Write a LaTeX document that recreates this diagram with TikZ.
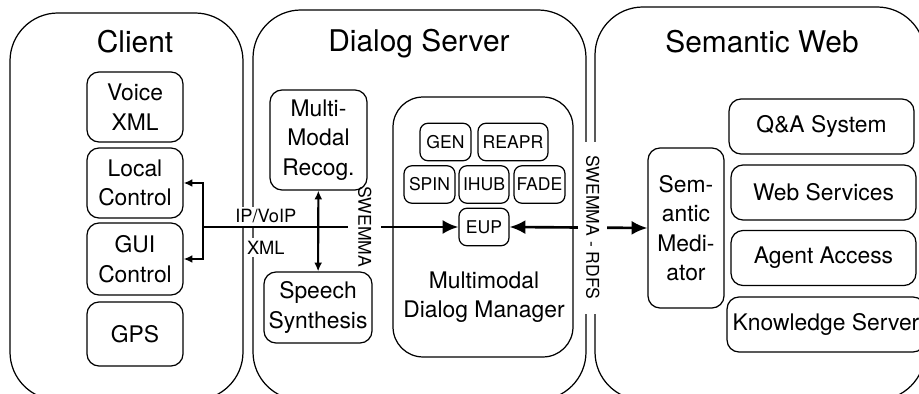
\documentclass[tikz,border=0pt]{standalone}
\usepackage{fontspec}
\setmainfont{TeX Gyre Heros}
\usetikzlibrary{arrows.meta,backgrounds}

\begin{document}
\begin{tikzpicture}[
  x=0.02cm,y=-0.02cm,
  >={Latex[length=5pt,width=4.5pt]},
  area/.style={draw,line width=0.7pt,rounded corners=0.96cm},
  title/.style={anchor=base,font=\fontsize{17}{20}\selectfont},
  unit/.style={draw,line width=0.7pt,rounded corners=0.24cm,align=center,inner sep=0pt,font=\fontsize{13}{16.8}\selectfont},
  clientbox/.style={unit,minimum width=1.92cm,minimum height=1.4cm},
  webbox/.style={unit,minimum width=3.7cm,minimum height=1.1cm},
  subunit/.style={draw,line width=0.7pt,rounded corners=0.16cm,inner sep=0pt,minimum width=1.02cm,minimum height=0.75cm,font=\fontsize{10}{12}\selectfont},
  link/.style={line width=1.2pt},
  heavy/.style={line width=1.5pt,arrows={-Latex[length=9pt,width=8pt]}},
  both/.style={line width=1.5pt,arrows={Latex[length=9pt,width=8pt]-Latex[length=9pt,width=8pt]}},
  tag/.style={fill=white,inner sep=1.5pt,font=\fontsize{10.4}{12}\selectfont},
  sidetag/.style={tag,rotate=-90,font=\fontsize{10}{12}\selectfont}
]
  \useasboundingbox (0,0) rectangle (919,394);

  \begin{scope}[on background layer]
    \draw[area] (10,13) rectangle (243,400);
    \draw[area] (253,10) rectangle (586,400);
    \draw[area] (595,7) rectangle (925,400);
  \end{scope}

  \node[title] (client) at (135,53) {Client};
  \node[title] (server) at (419,52) {Dialog Server};
  \node[title] (semweb) at (762,53) {Semantic Web};

  \node[clientbox] (voice) at (135,107) {Voice\\XML};
  \node[clientbox] (local) at (135,183) {Local\\Control};
  \node[clientbox,minimum height=1.44cm] (gui) at (135,259) {GUI\\Control};
  \node[clientbox,minimum height=1.28cm] (gps) at (135,334) {GPS};

  \node[unit,minimum width=1.94cm,minimum height=2cm] (recog) at (318.5,140) {Multi-\\Modal\\Recog.};
  \node[unit,minimum width=2.16cm,minimum height=1.42cm] (speech) at (318,307.5) {Speech\\Synthesis};
  \node[draw,line width=0.7pt,rounded corners=0.6cm,minimum width=3.6cm,minimum height=5.2cm] (manager) at (483,227) {};
  \node[align=center,font=\fontsize{13}{16.8}\selectfont] (managerlabel) at (484,297) {Multimodal\\Dialog Manager};

  \node[subunit] (gen) at (445.5,142) {GEN};
  \node[subunit,minimum width=1.4cm] (reapr) at (513,142) {REAPR};
  \node[subunit] (spin) at (429.5,184.5) {SPIN};
  \node[subunit,minimum width=1cm] (ihub) at (484,184.5) {IHUB};
  \node[subunit] (fade) at (539.5,184.5) {FADE};
  \node[subunit,minimum width=1cm] (eup) at (484,227) {EUP};

  \node[unit,minimum width=1.52cm,minimum height=3.2cm] (mediator) at (686,228) {Sem-\\antic\\Medi-\\ator};
  \node[webbox] (qa) at (821.5,126.5) {Q\&A System};
  \node[webbox] (websvc) at (823.5,192.5) {Web Services};
  \node[webbox] (agent) at (823.5,258) {Agent Access};
  \node[webbox,minimum width=3.96cm] (knowledge) at (826,324.5) {Knowledge Server};

  \coordinate (fork) at (203,227);

  \begin{scope}[on background layer]
    \draw[link,->] (fork) |- (local.east);
    \draw[link,->] (fork) |- (gui.east);
    \draw[link,<->] (recog) -- (speech);
    \draw[heavy] (fork) -- node[tag,above,pos=0.246] {IP/VoIP}
      node[tag,below=0.2cm,pos=0.246] {XML}
      node[sidetag,pos=0.633,inner xsep=1pt,inner ysep=5.5pt] {SWEMMA} (eup.west);
    \draw[both] (eup.east) --
      node[sidetag,pos=0.604,inner xsep=8pt,inner ysep=4.5pt] {SWEMMA - RDFS} (mediator.west);
  \end{scope}
\end{tikzpicture}
\end{document}
